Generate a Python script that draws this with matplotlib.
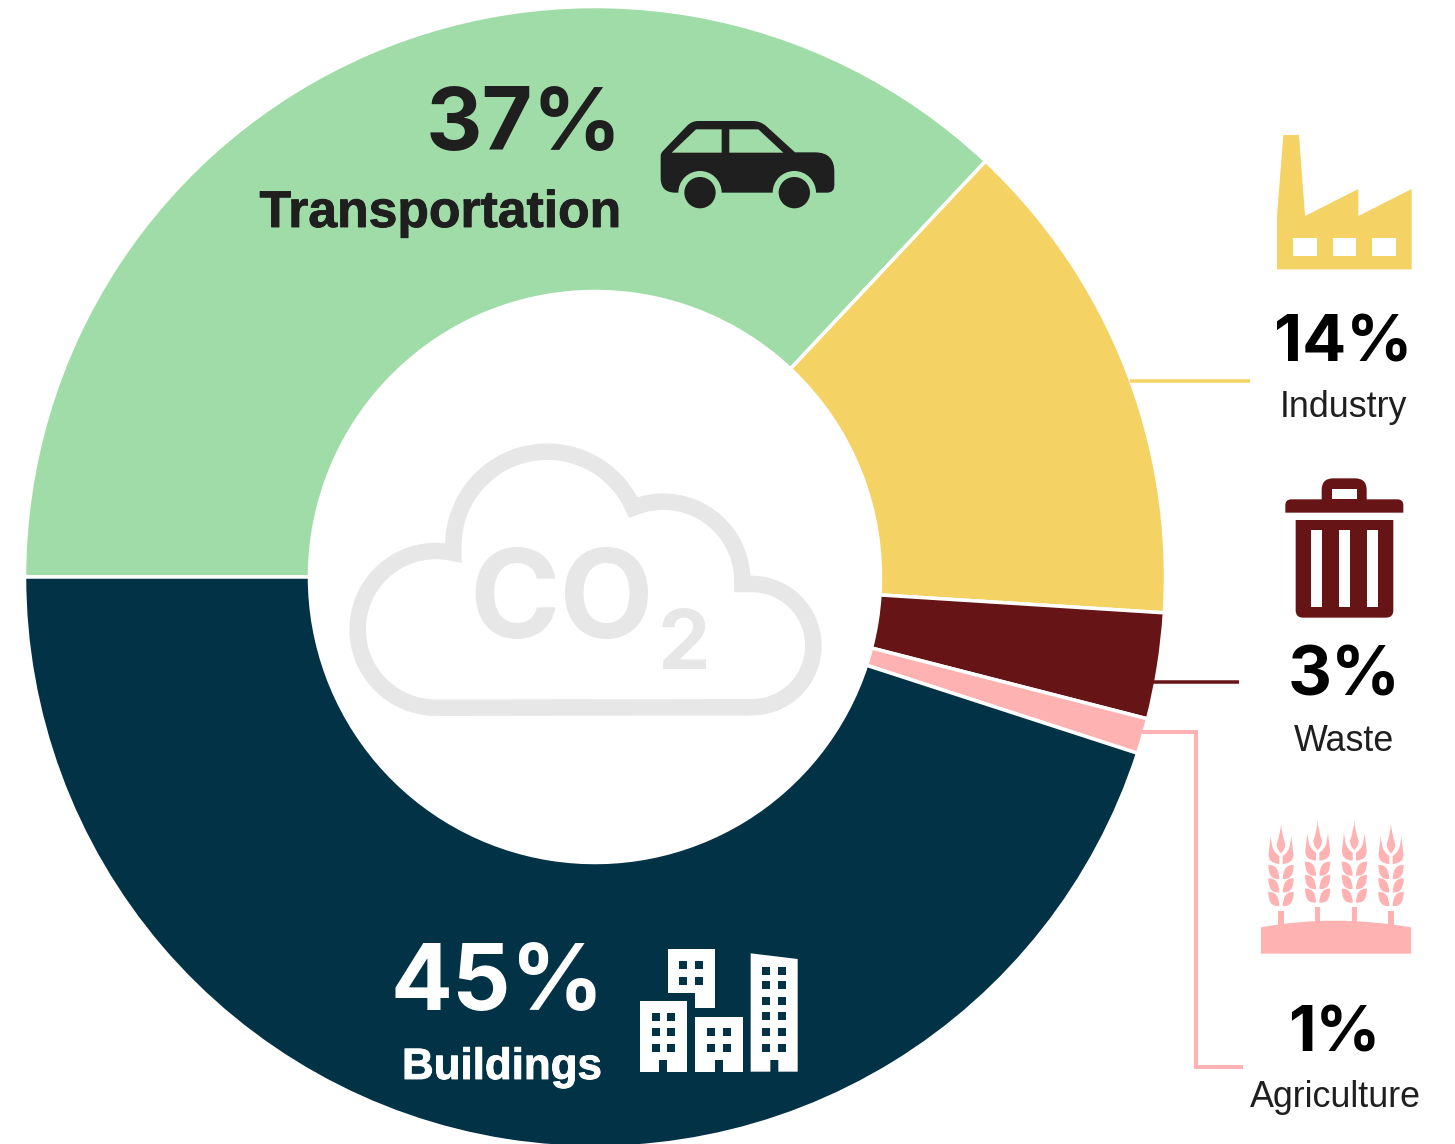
import numpy as np
import matplotlib
matplotlib.use("Agg")
import matplotlib.pyplot as plt
import matplotlib.patheffects as pe
from matplotlib.path import Path
from matplotlib.patches import PathPatch, Circle

# ---- data ----
categories = ["Transportation", "Industry", "Waste", "Agriculture", "Buildings"]
shares = [37, 14, 3, 1, 45]
colors = ["#A0DCA8", "#F4D264", "#661416", "#FEB2B2", "#023246"]

W, H = 1455, 1144
plt.rcParams["font.family"] = ["Liberation Sans", "DejaVu Sans"]
fig = plt.figure(figsize=(W / 100, H / 100), dpi=100, facecolor="white")
ax = fig.add_axes([0, 0, 1, 1])

def Y(y):
    return H - y

PX = 0.72  # points per pixel at dpi 100

# ---- donut ----
CX, CY, R_OUT, R_IN = 595, 577, 570.5, 285.5
ax.pie(shares, colors=colors, startangle=180, counterclock=False,
       center=(CX, Y(CY)), radius=R_OUT, frame=True,
       wedgeprops=dict(width=R_OUT - R_IN, edgecolor="white", linewidth=3.5 * PX))
ax.set_xlim(0, W)
ax.set_ylim(0, H)
ax.set_aspect("equal")
ax.axis("off")

# ---- helpers for the pictograms (coordinates are from 3x crops) ----
def mapper(ox, oy):
    return lambda x, y: (ox + x / 3, Y(oy + y / 3))

def shape(m, pts, color, z=5):
    verts, codes = [], []
    n = len(pts)
    for i, p in enumerate(pts):
        x, y = p[0], p[1]
        r = p[2] if len(p) > 2 else 0
        if r:
            a = np.array(pts[i - 1][:2], float)
            b = np.array(pts[(i + 1) % n][:2], float)
            c = np.array([x, y], float)
            u = (a - c) / np.linalg.norm(a - c)
            v = (b - c) / np.linalg.norm(b - c)
            s, e = c + u * r, c + v * r
            verts.append(m(*s)); codes.append(Path.LINETO)
            verts.append(m(*c)); codes.append(Path.CURVE3)
            verts.append(m(*e)); codes.append(Path.CURVE3)
        else:
            verts.append(m(x, y)); codes.append(Path.LINETO)
    codes[0] = Path.MOVETO
    verts.append(verts[0]); codes.append(Path.CLOSEPOLY)
    ax.add_patch(PathPatch(Path(verts, codes), facecolor=color, edgecolor="none", zorder=z))

def rect(m, x0, y0, x1, y1, color, z=6):
    shape(m, [(x0, y0), (x1, y0), (x1, y1), (x0, y1)], color, z)

def circle(m, x, y, r, color, z=6):
    c = m(x, y)
    ax.add_patch(Circle(c, r / 3, facecolor=color, edgecolor="none", zorder=z))

def arc(cx, cy, r, a0, a1, n=70):
    t = np.radians(np.linspace(a0, a1, n))
    return [(cx + r * np.cos(a), cy - r * np.sin(a)) for a in t]

# ---- cloud ----
m = mapper(340, 430)
ang = lambda cx, cy, x, y: np.degrees(np.arctan2(cy - y, x - cx))
cloud = []
cloud += arc(1235, 647, 185, -90, 90)
cloud += [(1207, 462)]
cloud += arc(970, 452, 237, 0, ang(970, 452, 881, 232))
cloud += arc(622, 347, 282, ang(622, 347, 881, 232), 180)
cloud += arc(288, 598, 235, ang(288, 598, 340, 369), 270)
cloud_xy = np.array([m(x, y) for x, y in cloud] + [m(*cloud[0])])
ax.plot(cloud_xy[:, 0], cloud_xy[:, 1], color="#E7E7E7", lw=16.5 * PX,
        solid_joinstyle="miter", solid_capstyle="butt", zorder=4)
num_font = ["Inter", "Liberation Sans"]
ax.text(469, Y(638), "CO", fontsize=88, fontweight="bold", family=num_font, color="#E7E7E7", ha="left", va="baseline", zorder=4)
ax.text(657, Y(669), "2", fontsize=60, fontweight="bold", family=num_font, color="#E7E7E7", ha="left", va="baseline", zorder=4)

# ---- car ----
m = mapper(640, 100)
green, ink = colors[0], "#1F1F1F"
shape(m, [(62, 160, 8), (155, 63, 20), (362, 63, 24), (465, 157, 0),
          (525, 157, 0), (583, 157, 58), (583, 278, 22), (62, 278, 44)], ink)
for x in (180, 463):
    circle(m, x, 278, 65, green, 6)
    circle(m, x, 278, 47, ink, 7)
for pts in ([(95, 158), (168, 88), (245, 88), (245, 158)], [(268, 88), (355, 88), (430, 158), (268, 158)]):
    shape(m, pts, green, 6)

# ---- buildings ----
m = mapper(630, 940)
navy = colors[4]
shape(m, [(113, 28), (255, 28), (255, 205), (196, 205), (196, 158), (113, 158)], "white")
shape(m, [(30, 182), (172, 182), (172, 395), (112, 395), (112, 360), (88, 360), (88, 395), (30, 395)], "white")
shape(m, [(196, 230), (338, 230), (338, 395), (279, 395), (279, 360), (255, 360), (255, 395), (196, 395)], "white")
shape(m, [(362, 40), (503, 57), (503, 395), (445, 395), (445, 360), (421, 360), (421, 395), (362, 395)], "white")
for xs, ys in (((148, 196), (63, 110)), ((65, 112), (218, 265, 312)), ((231, 279), (265, 312)),
               ((397, 445), (81, 122, 170, 217, 265, 312))):
    for x in xs:
        for y in ys:
            rect(m, x, y, x + 24, y + 24, navy)

# ---- factory ----
m = mapper(1250, 120)
yellow = colors[1]
shape(m, [(100, 45), (147, 45), (165, 288), (325, 207), (325, 288), (485, 207), (485, 448), (81, 448), (81, 288)], yellow)
for x0, x1 in ((130, 200), (248, 319), (367, 438)):
    rect(m, x0, 353, x1, 407, "white")

# ---- trash ----
m = mapper(1270, 470)
red = colors[2]
shape(m, [(46, 128), (46, 88, 18), (155, 88), (155, 25, 35), (290, 25, 35), (290, 88), (400, 88, 18), (400, 128)], red)
rect(m, 187, 58, 260, 88, "white")
shape(m, [(77, 150), (370, 150), (370, 443, 22), (77, 443, 22)], red)
for x0, x1 in ((124, 155), (208, 239), (292, 323)):
    rect(m, x0, 181, x1, 411, "white")

# ---- wheat ----
m = mapper(1250, 810)
pink = colors[3]
def curve(commands, color):
    verts, codes = [], []
    for c in commands:
        if len(c) == 2:
            verts.append(m(*c)); codes.append(Path.LINETO)
        else:
            verts.append(m(c[0], c[1])); codes.append(Path.CURVE3)
            verts.append(m(c[2], c[3])); codes.append(Path.CURVE3)
    codes[0] = Path.MOVETO
    verts.append(verts[0]); codes.append(Path.CLOSEPOLY)
    ax.add_patch(PathPatch(Path(verts, codes), facecolor=color, edgecolor="none", zorder=5))

def ear(cx, top):
    curve([(cx, top), (cx + 2, top + 35, cx + 13, top + 62), (cx + 12, top + 80, cx, top + 90),
           (cx - 12, top + 80, cx - 13, top + 62), (cx - 2, top + 35, cx, top)], pink)
    for s in (-1, 1):
        curve([(cx + s * 31, top + 40), (cx + s * 37, top + 90),
               (cx + s * 40, top + 120, cx + s * 5, top + 122), (cx + s * 5, top + 98),
               (cx + s * 24, top + 85, cx + s * 27, top + 65)], pink)
        for off in (125, 165, 206):
            curve([(cx + s * 38, top + off), (cx + s * 6, top + off - 2, cx + s * 5, top + off + 42),
                   (cx + s * 38, top + off + 46, cx + s * 38, top + off)], pink)

for cx, top, stem in ((93, 40, 302), (203, 30, 292), (313, 30, 292), (423, 40, 302)):
    ear(cx, top)
    rect(m, cx - 8, stem, cx + 8, 345, pink, 5)
curve([(33, 352), (250, 312, 483, 352), (483, 431), (33, 431)], pink)

# ---- leader lines ----
ax.plot([1130, 1250], [Y(381), Y(381)], color=yellow, lw=3.5 * PX, solid_capstyle="butt", zorder=3)
ax.plot([1153, 1239], [Y(682), Y(682)], color=red, lw=3.5 * PX, solid_capstyle="butt", zorder=3)
ax.plot([1142, 1196, 1196, 1243], [Y(732), Y(732), Y(1067), Y(1067)], color=pink, lw=4 * PX,
        solid_capstyle="butt", solid_joinstyle="miter", zorder=3)

# ---- labels ----
def val(i):
    return f"{shares[i]}%"

dark = "#1F1F1F"
def heavy(color):
    return [pe.withStroke(linewidth=0.9 * PX, foreground=color)]

ax.text(622, Y(150), val(0), fontsize=63, fontweight="bold", family=num_font, color=dark, ha="right", va="baseline", zorder=6)
ax.text(621, Y(227), categories[0], fontsize=37.2, fontweight="bold", color=dark, ha="right", va="baseline", zorder=6,
        path_effects=heavy(dark))
ax.text(604, Y(1010), val(4), fontsize=66, fontweight="bold", family=num_font, color="white", ha="right", va="baseline", zorder=6)
ax.text(602, Y(1079), categories[4], fontsize=31.6, fontweight="bold", color="white", ha="right", va="baseline", zorder=6,
        path_effects=heavy("white"))
for i, x, y1, y2, fs, xl in ((1, 1343, 362, 417, 47, 1343.5), (2, 1344, 696, 751, 49, 1344), (3, 1334, 1052, 1107, 46, 1335)):
    ax.text(x, Y(y1), val(i), fontsize=fs, fontweight="bold", family=num_font, color="black", ha="center", va="baseline", zorder=6)
    ax.text(xl, Y(y2), categories[i], fontsize=25.8, color=dark, ha="center", va="baseline", zorder=6)

fig.savefig("out.png", dpi=100, facecolor="white")
